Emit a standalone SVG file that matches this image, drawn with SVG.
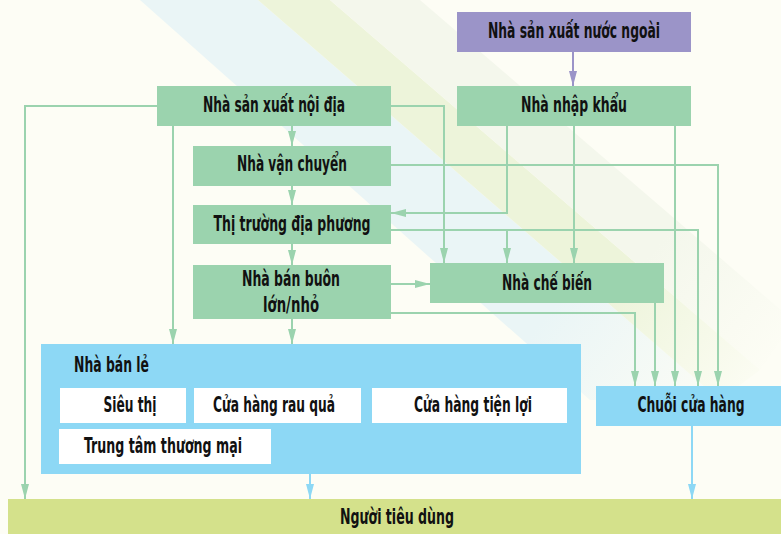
<svg xmlns="http://www.w3.org/2000/svg" width="781" height="534" viewBox="0 0 781 534">
<style>
.t{font-family:"Liberation Sans Narrow","DejaVu Sans Condensed","Liberation Sans",sans-serif;font-weight:bold;font-size:20.5px;fill:#111;}
.g{fill:#9bd3ae;}
.p{fill:#9b94c8;}
.b{fill:#8dd8f5;}
.w{fill:#ffffff;}
.c{fill:none;stroke:#9bd3ae;stroke-width:2;}
.cp{fill:none;stroke:#9b94c8;stroke-width:2;}
.cb{fill:none;stroke:#8dd8f5;stroke-width:2;}
</style>
<defs>
<marker id="ag" markerUnits="userSpaceOnUse" markerWidth="16" markerHeight="10" refX="15" refY="5" orient="auto"><path d="M0,1 L15,5 L0,9 Z" fill="#9bd3ae"/></marker>
<marker id="ap" markerUnits="userSpaceOnUse" markerWidth="16" markerHeight="10" refX="15" refY="5" orient="auto"><path d="M0,1 L15,5 L0,9 Z" fill="#9b94c8"/></marker>
<marker id="ab" markerUnits="userSpaceOnUse" markerWidth="16" markerHeight="10" refX="15" refY="5" orient="auto"><path d="M0,1 L15,5 L0,9 Z" fill="#8dd8f5"/></marker>
<linearGradient id="gb" gradientUnits="userSpaceOnUse" x1="200" y1="0" x2="720" y2="420"><stop offset="0" stop-color="#eaf5f6"/><stop offset="0.7" stop-color="#eaf5f6"/><stop offset="1" stop-color="#eaf5f6" stop-opacity="0"/></linearGradient>
<linearGradient id="gg" gradientUnits="userSpaceOnUse" x1="270" y1="0" x2="760" y2="400"><stop offset="0" stop-color="#edf4da"/><stop offset="0.7" stop-color="#edf4da"/><stop offset="1" stop-color="#edf4da" stop-opacity="0"/></linearGradient>
<linearGradient id="gl" gradientUnits="userSpaceOnUse" x1="350" y1="0" x2="781" y2="360"><stop offset="0" stop-color="#f4f7ec"/><stop offset="0.7" stop-color="#f4f7ec"/><stop offset="1" stop-color="#f4f7ec" stop-opacity="0"/></linearGradient>
</defs>
<rect x="0" y="0" width="781" height="534" fill="#fdfdf5"/>
<g id="background">
<polygon points="140,0 258,0 720,400 590,400" fill="url(#gb)"/>
<polygon points="258,0 330,0 760,370 720,400" fill="url(#gg)"/>
<polygon points="330,0 420,0 781,310 781,340 760,370" fill="url(#gl)"/>
</g>
<g id="connectors">
<path class="cp" d="M573,52 V86" marker-end="url(#ap)"/>
<path class="c" d="M157,106 H25 V499" marker-end="url(#ag)"/>
<path class="c" d="M173,125 V344" marker-end="url(#ag)"/>
<path class="c" d="M292,125 V146" marker-end="url(#ag)"/>
<path class="c" d="M391,106 H444 V263" marker-end="url(#ag)"/>
<path class="c" d="M507,125 V213 H391" marker-end="url(#ag)"/>
<path class="c" d="M574,125 V263" marker-end="url(#ag)"/>
<path class="c" d="M675,125 V386" marker-end="url(#ag)"/>
<path class="c" d="M391,165 H718 V386" marker-end="url(#ag)"/>
<path class="c" d="M391,230 H698 V386" marker-end="url(#ag)"/>
<path class="c" d="M507,230 V263" marker-end="url(#ag)"/>
<path class="c" d="M292,185 V205" marker-end="url(#ag)"/>
<path class="c" d="M292,244 V265" marker-end="url(#ag)"/>
<path class="c" d="M391,284 H430" marker-end="url(#ag)"/>
<path class="c" d="M391,313 H635 V386" marker-end="url(#ag)"/>
<path class="c" d="M655,303 V386" marker-end="url(#ag)"/>
<path class="c" d="M292,319 V344" marker-end="url(#ag)"/>
<path class="cb" d="M310,474 V499" marker-end="url(#ab)"/>
<path class="cb" d="M692,426 V499" marker-end="url(#ab)"/>
</g>
<g id="nha-san-xuat-nuoc-ngoai"><rect class="p" x="457" y="12" width="234" height="40"/><text class="t" x="574" y="38" text-anchor="middle" textLength="172" lengthAdjust="spacingAndGlyphs">Nhà sản xuất nước ngoài</text></g>
<g id="nha-nhap-khau"><rect class="g" x="457" y="86" width="234" height="40"/><text class="t" x="574" y="112" text-anchor="middle" textLength="106" lengthAdjust="spacingAndGlyphs">Nhà nhập khẩu</text></g>
<g id="nha-san-xuat-noi-dia"><rect class="g" x="157" y="86" width="234" height="40"/><text class="t" x="274" y="112" text-anchor="middle" textLength="142" lengthAdjust="spacingAndGlyphs">Nhà sản xuất nội địa</text></g>
<g id="nha-van-chuyen"><rect class="g" x="193" y="146" width="198" height="40"/><text class="t" x="292" y="171" text-anchor="middle" textLength="110" lengthAdjust="spacingAndGlyphs">Nhà vận chuyển</text></g>
<g id="thi-truong-dia-phuong"><rect class="g" x="193" y="205" width="198" height="39"/><text class="t" x="292" y="231" text-anchor="middle" textLength="157" lengthAdjust="spacingAndGlyphs">Thị trường địa phương</text></g>
<g id="nha-ban-buon"><rect class="g" x="193" y="265" width="198" height="54"/><text class="t" x="291" y="286" text-anchor="middle" textLength="98" lengthAdjust="spacingAndGlyphs">Nhà bán buôn</text><text class="t" x="291" y="312" text-anchor="middle" textLength="56" lengthAdjust="spacingAndGlyphs">lớn/nhỏ</text></g>
<g id="nha-che-bien"><rect class="g" x="430" y="263" width="234" height="40"/><text class="t" x="547" y="290" text-anchor="middle" textLength="90" lengthAdjust="spacingAndGlyphs">Nhà chế biến</text></g>
<g id="nha-ban-le"><rect class="b" x="41" y="344" width="540" height="130"/><text class="t" x="74" y="372" textLength="75" lengthAdjust="spacingAndGlyphs">Nhà bán lẻ</text></g>
<g id="sieu-thi"><rect class="w" x="60" y="388" width="126" height="35"/><text class="t" x="130" y="412" text-anchor="middle" textLength="53" lengthAdjust="spacingAndGlyphs">Siêu thị</text></g>
<g id="cua-hang-rau-qua"><rect class="w" x="194" y="388" width="167" height="35"/><text class="t" x="274" y="412" text-anchor="middle" textLength="122" lengthAdjust="spacingAndGlyphs">Cửa hàng rau quả</text></g>
<g id="cua-hang-tien-loi"><rect class="w" x="372" y="388" width="195" height="35"/><text class="t" x="473" y="412" text-anchor="middle" textLength="118" lengthAdjust="spacingAndGlyphs">Cửa hàng tiện lợi</text></g>
<g id="trung-tam-thuong-mai"><rect class="w" x="59" y="429" width="212" height="35"/><text class="t" x="163" y="453" text-anchor="middle" textLength="158" lengthAdjust="spacingAndGlyphs">Trung tâm thương mại</text></g>
<g id="chuoi-cua-hang"><rect class="b" x="596" y="386" width="185" height="40"/><text class="t" x="691" y="412" text-anchor="middle" textLength="107" lengthAdjust="spacingAndGlyphs">Chuỗi cửa hàng</text></g>
<g id="nguoi-tieu-dung"><rect x="8" y="499" width="773" height="35" fill="#d4e18b"/><text class="t" x="397" y="524" text-anchor="middle" textLength="114" lengthAdjust="spacingAndGlyphs">Người tiêu dùng</text></g>
</svg>
